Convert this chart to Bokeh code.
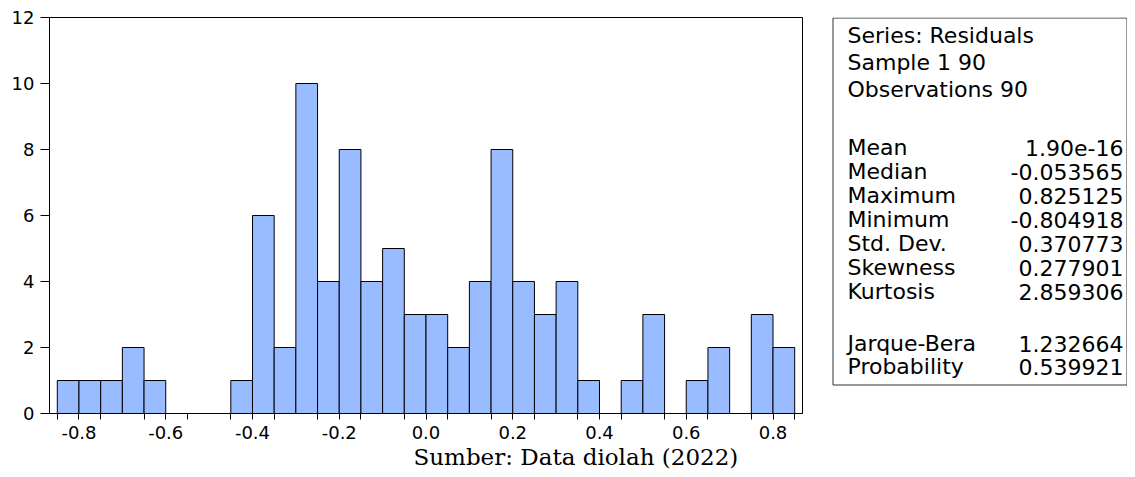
from bokeh.plotting import figure
from bokeh.models import Range1d, FixedTicker, PrintfTickFormatter, Title, ColumnDataSource
from bokeh.layouts import row
from bokeh.embed import file_html
from bokeh.resources import INLINE
from bokeh.core.properties import value

# ---- data ----
bin_width = 0.05
bin_left = [-0.85, -0.80, -0.75, -0.70, -0.65, -0.60, -0.55, -0.50, -0.45, -0.40,
            -0.35, -0.30, -0.25, -0.20, -0.15, -0.10, -0.05, 0.00, 0.05, 0.10,
            0.15, 0.20, 0.25, 0.30, 0.35, 0.40, 0.45, 0.50, 0.55, 0.60,
            0.65, 0.70, 0.75, 0.80]
counts = [1, 1, 1, 2, 1, 0, 0, 0, 1, 6,
          2, 10, 4, 8, 4, 5, 3, 3, 2, 4,
          8, 4, 3, 4, 1, 0, 1, 3, 0, 1,
          2, 0, 3, 2]
x_major_ticks = [-0.8, -0.6, -0.4, -0.2, 0.0, 0.2, 0.4, 0.6, 0.8]
x_minor_ticks = [-0.85, -0.75, -0.65, -0.55, -0.45, -0.35, -0.25, -0.15, -0.05,
                 0.05, 0.15, 0.25, 0.35, 0.45, 0.55, 0.65, 0.75, 0.85]
y_ticks = [0, 2, 4, 6, 8, 10, 12]

header_lines = ["Series: Residuals", "Sample 1 90", "Observations 90"]
stat_names = ["Mean", "Median", "Maximum", "Minimum", "Std. Dev.", "Skewness", "Kurtosis"]
stat_values = ["1.90e-16", "-0.053565", "0.825125", "-0.804918", "0.370773", "0.277901", "2.859306"]
test_names = ["Jarque-Bera", "Probability"]
test_values = ["1.232664", "0.539921"]
source_note = "Sumber: Data diolah (2022)"

TOP, BOTTOM = 17, 56   # shared vertical borders (frame 17..413)

# ---- histogram ----
left = [b for b, c in zip(bin_left, counts) if c > 0]
right = [b + bin_width for b, c in zip(bin_left, counts) if c > 0]
top = [c for c in counts if c > 0]
src = ColumnDataSource(dict(left=left, right=right, top=top, bottom=[0] * len(top)))

p = figure(width=822, height=469, output_backend="svg", toolbar_location=None,
           x_range=Range1d(-0.868, 0.868), y_range=Range1d(0, 12),
           min_border_left=49, min_border_right=20, min_border_top=TOP, min_border_bottom=BOTTOM)
p.quad(left="left", right="right", top="top", bottom="bottom", source=src,
       fill_color="#99BBFF", line_color="black", line_width=1)

p.grid.visible = False
p.outline_line_color = "black"
p.outline_line_width = 1
p.background_fill_color = "white"
p.border_fill_color = "white"

p.xaxis.ticker = FixedTicker(ticks=x_major_ticks, minor_ticks=x_minor_ticks)
p.xaxis.formatter = PrintfTickFormatter(format="%.1f")
p.xaxis.major_tick_out = 6
p.xaxis.major_tick_in = 0
p.xaxis.minor_tick_out = 6
p.xaxis.minor_tick_in = 0
p.xaxis.major_label_standoff = 6
p.xaxis.major_label_text_font = "DejaVu Sans"
p.xaxis.major_label_text_font_size = "18px"
p.xaxis.major_label_text_color = "black"
p.xaxis.axis_line_color = "black"
p.xaxis.major_tick_line_color = "black"
p.xaxis.minor_tick_line_color = "black"

p.yaxis.ticker = FixedTicker(ticks=y_ticks, minor_ticks=[])
p.yaxis.major_tick_out = 9
p.yaxis.major_tick_in = 0
p.yaxis.minor_tick_line_color = None
p.yaxis.major_label_standoff = 6
p.yaxis.major_label_text_font = "DejaVu Sans"
p.yaxis.major_label_text_font_size = "18px"
p.yaxis.major_label_text_color = "black"
p.yaxis.axis_line_color = "black"
p.yaxis.major_tick_line_color = "black"

note = Title(text=source_note, align="left", offset=364, standoff=0,
             text_font="DejaVu Serif", text_font_size="23px", text_font_style="normal",
             text_color="black")
p.add_layout(note, "below")

# ---- statistics box ----
fw = 305
fh = 469 - TOP - BOTTOM
s = figure(width=fw, height=469, output_backend="svg", toolbar_location=None,
           x_range=Range1d(0, fw), y_range=Range1d(fh, 0),
           x_axis_location=None, y_axis_location=None,
           min_border_left=0, min_border_right=0, min_border_top=TOP, min_border_bottom=BOTTOM)
s.grid.visible = False
s.outline_line_color = None
s.background_fill_color = "white"
s.border_fill_color = "white"

# box outline (coordinates measured in pixels from the top-left of the frame)
s.quad(left=[10.5], right=[304.5], top=[0.5], bottom=[367.5],
       fill_color=None, line_color="#333333", line_width=1)

lx, rx = 25, 301
ys_head = [18 + 27 * i for i in range(len(header_lines))]
ys_stat = [130 + 24 * i for i in range(len(stat_names))]
ys_test = [326 + 23 * i for i in range(len(test_names))]

left_src = ColumnDataSource(dict(x=[lx] * (len(header_lines) + len(stat_names) + len(test_names)),
                                 y=ys_head + ys_stat + ys_test,
                                 t=header_lines + stat_names + test_names))
right_src = ColumnDataSource(dict(x=[rx] * (len(stat_values) + len(test_values)),
                                  y=ys_stat + ys_test,
                                  t=stat_values + test_values))
common = dict(text_font=value("DejaVu Sans"), text_font_size="22px", text_color="black",
              text_baseline="middle")
s.text(x="x", y="y", text="t", source=left_src, text_align="left", **common)
s.text(x="x", y="y", text="t", source=right_src, text_align="right", **common)

layout = row(p, s)
open("out.html", "w").write(file_html(layout, INLINE))
